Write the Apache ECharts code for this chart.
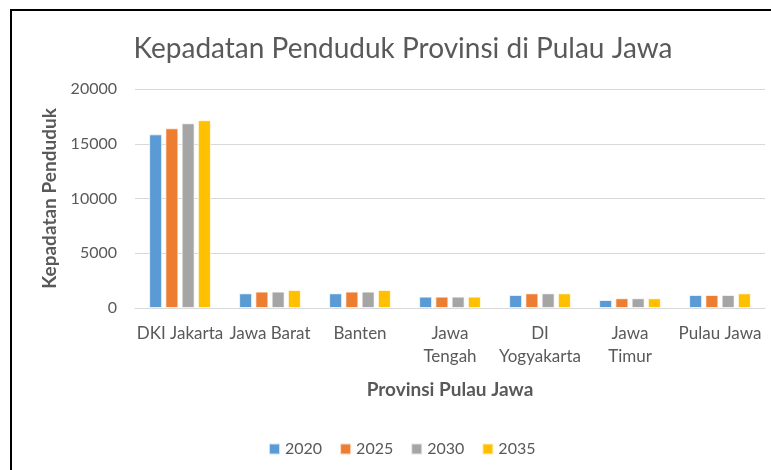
<!DOCTYPE html>
<html>
<head>
<meta charset="utf-8">
<script src="https://cdn.jsdelivr.net/npm/echarts@6/dist/echarts.min.js"></script>
<style>
html,body{margin:0;padding:0;background:#fff;}
#chart{width:771px;height:470px;}
</style>
</head>
<body>
<div id="chart"></div>
<script>
const categories = ['DKI Jakarta', 'Jawa Barat', 'Banten', 'Jawa\nTengah', 'DI\nYogyakarta', 'Jawa\nTimur', 'Pulau Jawa'];
const years = ['2020', '2025', '2030', '2035'];
const v2020 = [15860, 1340, 1340, 1040, 1190, 730, 1190];
const v2025 = [16410, 1500, 1500, 1040, 1340, 890, 1190];
const v2030 = [16870, 1500, 1500, 1040, 1340, 890, 1190];
const v2035 = [17150, 1640, 1640, 1040, 1340, 890, 1340];
const yTicks = [0, 5000, 10000, 15000, 20000];
const colors = ['#5B9BD5', '#ED7D31', '#A5A5A5', '#FFC000'];

const FONT = 'Lato, "Open Sans", sans-serif';
const seriesData = [v2020, v2025, v2030, v2035];

const chart = echarts.init(document.getElementById('chart'), null, {renderer: 'canvas'});
chart.setOption({
  animation: false,
  color: colors,
  title: {
    text: 'Kepadatan Penduduk Provinsi di Pulau Jawa',
    left: 398, top: 30, textAlign: 'center',
    textStyle: {fontFamily: FONT, fontSize: 28, fontWeight: 'normal', color: '#595959'}
  },
  graphic: [{
    type: 'rect', shape: {x: 11, y: 10, width: 900, height: 600},
    style: {fill: 'none', stroke: '#000', lineWidth: 2}, silent: true, z: 100
  }],
  legend: {
    data: years, top: 441, left: 268, padding: 0,
    itemWidth: 11, itemHeight: 11, itemGap: 17,
    icon: 'rect',
    textStyle: {fontFamily: FONT, fontSize: 16, color: '#595959', padding: [0, 0, 0, 0]}
  },
  grid: {left: 135, right: 6, top: 89, bottom: 162, containLabel: false},
  xAxis: {
    type: 'category', data: categories,
    axisTick: {show: false},
    axisLine: {lineStyle: {color: '#D9D9D9', width: 1}},
    axisLabel: {fontFamily: FONT, fontSize: 17, color: '#595959', margin: 14, lineHeight: 23, interval: 0},
    name: 'Provinsi Pulau Jawa', nameLocation: 'middle', nameGap: 72,
    nameTextStyle: {fontFamily: FONT, fontSize: 19, fontWeight: 'bold', color: '#595959'}
  },
  yAxis: {
    type: 'value', min: yTicks[0], max: yTicks[yTicks.length - 1], interval: 5000,
    axisLine: {show: false}, axisTick: {show: false},
    splitLine: {lineStyle: {color: '#D9D9D9', width: 1}},
    axisLabel: {fontFamily: FONT, fontSize: 16, color: '#595959', margin: 18, formatter: v => String(v)},
    name: 'Kepadatan Penduduk', nameLocation: 'middle', nameGap: 74, nameRotate: 90,
    nameTextStyle: {fontFamily: FONT, fontSize: 19, fontWeight: 'bold', color: '#595959'}
  },
  series: years.map((y, i) => ({
    name: y, type: 'bar', data: seriesData[i],
    barWidth: 13, barGap: '25%',
    itemStyle: {color: colors[i], borderColor: 'rgba(255,255,255,0.7)', borderWidth: 1}
  }))
});
</script>
</body>
</html>
